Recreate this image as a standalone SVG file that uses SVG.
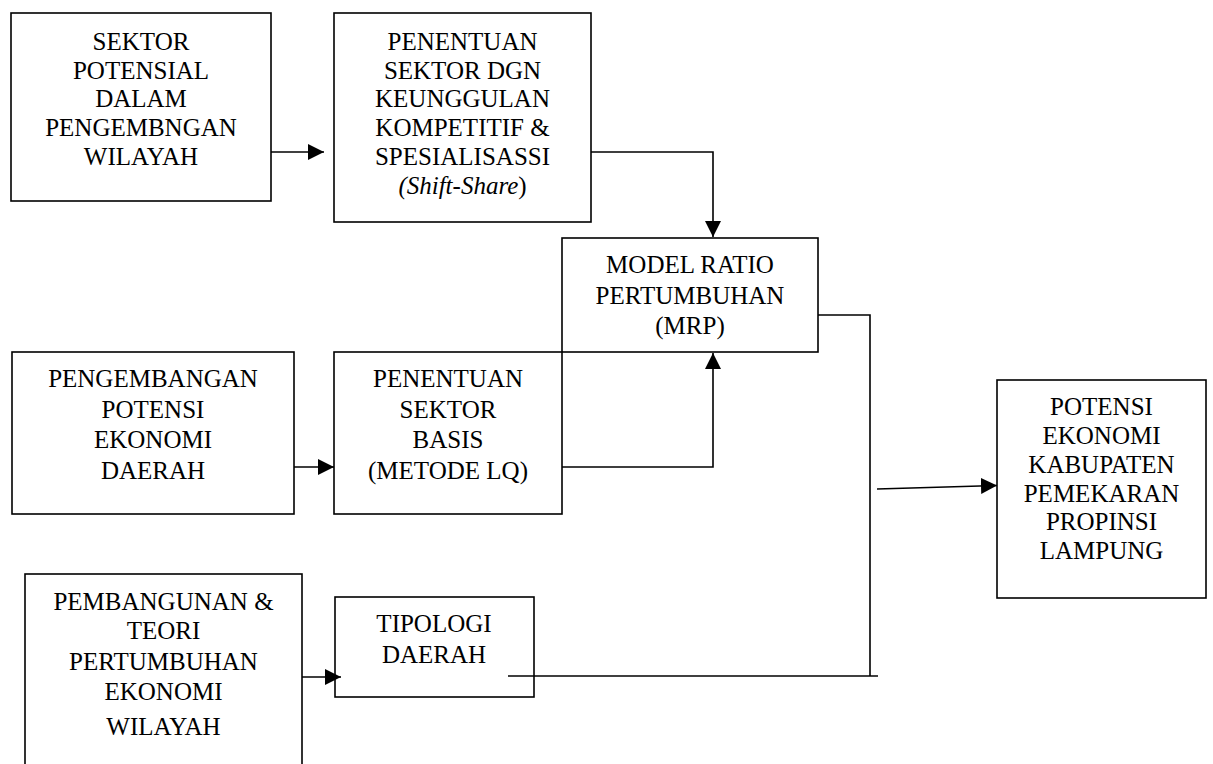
<svg xmlns="http://www.w3.org/2000/svg" width="1213" height="764" viewBox="0 0 1213 764">
<style>
.box{fill:#fff;stroke:#000;stroke-width:1.6}
.c{fill:none;stroke:#000;stroke-width:1.6}
</style>
<defs>
<marker id="arr" viewBox="0 0 16 16" markerWidth="16" markerHeight="16" refX="16" refY="8" orient="auto" markerUnits="userSpaceOnUse">
<path d="M0,0 L16,8 L0,16 z" fill="#000"/>
</marker>
</defs>
<rect width="1213" height="764" fill="#fff"/>
<g id="n-sektor-potensial" font-family="Liberation Serif, serif" font-size="25" text-anchor="middle">
<rect class="box" x="11" y="13" width="260" height="188"/>
<text x="141" y="50">SEKTOR</text>
<text x="141" y="78.7">POTENSIAL</text>
<text x="141" y="107.4">DALAM</text>
<text x="141" y="136.1">PENGEMBNGAN</text>
<text x="141" y="164.8">WILAYAH</text>
</g>
<g id="n-penentuan-dgn" font-family="Liberation Serif, serif" font-size="25" text-anchor="middle">
<rect class="box" x="334" y="13" width="257" height="209"/>
<text x="462.5" y="50">PENENTUAN</text>
<text x="462.5" y="78.7">SEKTOR DGN</text>
<text x="462.5" y="107.4">KEUNGGULAN</text>
<text x="462.5" y="136.1">KOMPETITIF &amp;</text>
<text x="462.5" y="164.8">SPESIALISASSI</text>
<text x="462.5" y="193.5"><tspan font-style="italic">(Shift-Share</tspan>)</text>
</g>
<g id="n-mrp" font-family="Liberation Serif, serif" font-size="25" text-anchor="middle">
<rect class="box" x="562" y="238" width="256" height="114"/>
<text x="690" y="273">MODEL RATIO</text>
<text x="690" y="304">PERTUMBUHAN</text>
<text x="690" y="334">(MRP)</text>
</g>
<g id="n-pengembangan" font-family="Liberation Serif, serif" font-size="25" text-anchor="middle">
<rect class="box" x="12" y="352" width="282" height="162"/>
<text x="153" y="387">PENGEMBANGAN</text>
<text x="153" y="417.5">POTENSI</text>
<text x="153" y="448">EKONOMI</text>
<text x="153" y="478.5">DAERAH</text>
</g>
<g id="n-basis" font-family="Liberation Serif, serif" font-size="25" text-anchor="middle">
<rect class="box" x="334" y="352" width="228" height="162"/>
<text x="448" y="387">PENENTUAN</text>
<text x="448" y="417.5">SEKTOR</text>
<text x="448" y="448">BASIS</text>
<text x="448" y="478.5">(METODE LQ)</text>
</g>
<g id="n-pembangunan" font-family="Liberation Serif, serif" font-size="25" text-anchor="middle">
<rect class="box" x="25" y="574" width="277" height="210"/>
<text x="163.5" y="609.5">PEMBANGUNAN &amp;</text>
<text x="163.5" y="639">TEORI</text>
<text x="163.5" y="669.5">PERTUMBUHAN</text>
<text x="163.5" y="700">EKONOMI</text>
<text x="163.5" y="735">WILAYAH</text>
</g>
<g id="n-tipologi" font-family="Liberation Serif, serif" font-size="25" text-anchor="middle">
<rect class="box" x="335" y="597" width="199" height="100"/>
<text x="434" y="631.7">TIPOLOGI</text>
<text x="434" y="662.5">DAERAH</text>
</g>
<g id="n-potensi" font-family="Liberation Serif, serif" font-size="25" text-anchor="middle">
<rect class="box" x="997" y="380" width="209" height="218"/>
<text x="1101.5" y="415">POTENSI</text>
<text x="1101.5" y="444">EKONOMI</text>
<text x="1101.5" y="472.7">KABUPATEN</text>
<text x="1101.5" y="501.5">PEMEKARAN</text>
<text x="1101.5" y="530">PROPINSI</text>
<text x="1101.5" y="558.5">LAMPUNG</text>
</g>
<g id="connectors">
<path class="c" d="M271,152 H324" marker-end="url(#arr)"/>
<path class="c" d="M591,152 H713 V237" marker-end="url(#arr)"/>
<path class="c" d="M294,467 H334" marker-end="url(#arr)"/>
<path class="c" d="M562,467 H713 V353" marker-end="url(#arr)"/>
<path class="c" d="M818,315 H870 V676"/>
<path class="c" d="M877,489 L997,485.5" marker-end="url(#arr)"/>
<path class="c" d="M302,677 H341" marker-end="url(#arr)"/>
<path class="c" d="M508,676 H878"/>
</g>
</svg>
